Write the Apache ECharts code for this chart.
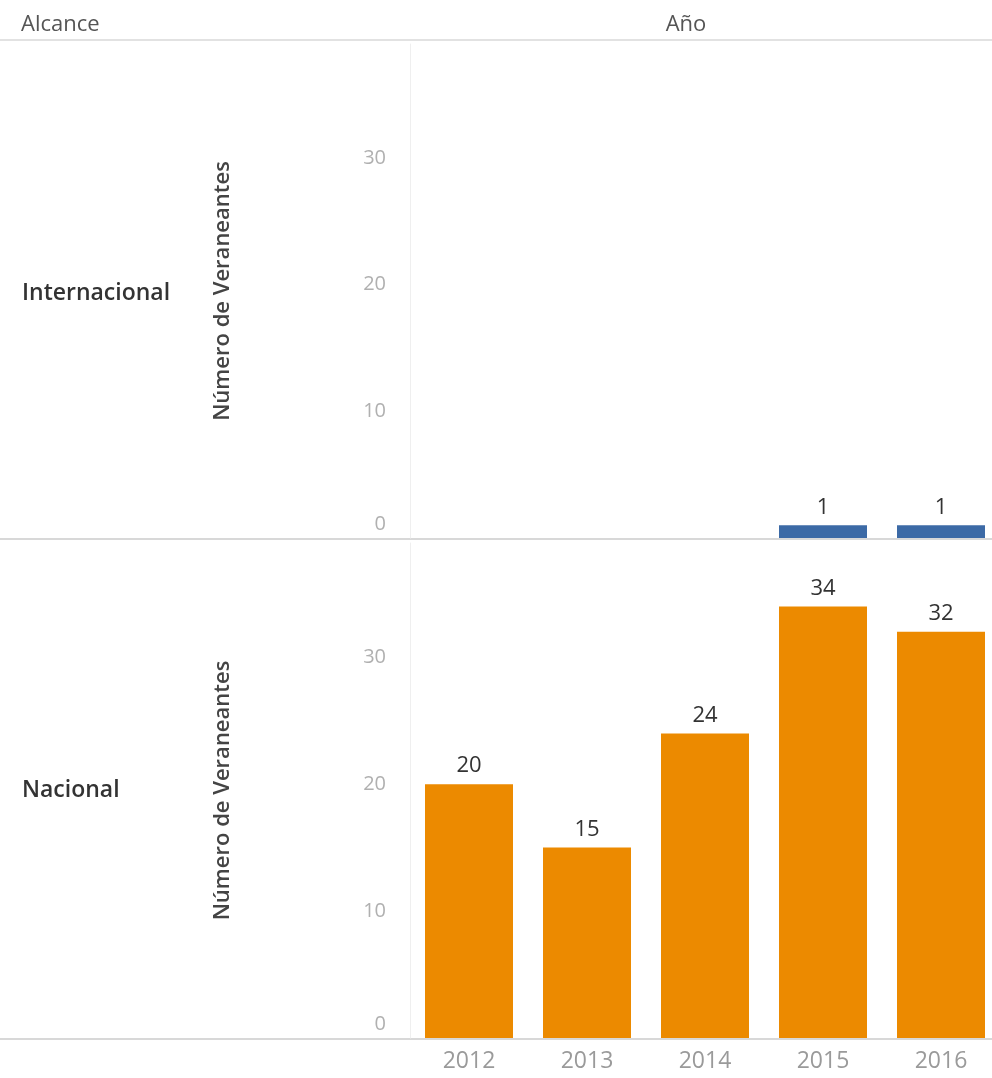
<!DOCTYPE html>
<html>
<head>
<meta charset="utf-8">
<script src="https://cdn.jsdelivr.net/npm/echarts@6/dist/echarts.min.js"></script>
<style>
html,body{margin:0;padding:0;background:#fff;overflow:hidden;}
#chart{width:1004px;height:1078px;}
</style>
</head>
<body>
<div id="chart"></div>
<script>
const years = ['2012', '2013', '2014', '2015', '2016'];
const internacional = [null, null, null, 1, 1];
const nacional = [20, 15, 24, 34, 32];
const rowLabels = ['Internacional', 'Nacional'];
const yTicks = [0, 10, 20, 30];

const font = '"Open Sans", "Noto Sans", sans-serif';
const chart = echarts.init(document.getElementById('chart'));

const tickStyle = { fontFamily: font, fontSize: 20, color: '#b0b0b0' };

const yAxisCommon = {
  type: 'value', min: 0, max: 39, interval: 10,
  name: 'Número de Veraneantes', nameLocation: 'middle', nameGap: 176,
  nameTextStyle: { fontFamily: font, fontSize: 22, color: '#444', fontWeight: 600 },
  axisLine: { show: true, lineStyle: { color: '#efefef', width: 1 } },
  axisTick: { show: false },
  splitLine: { show: false },
  axisLabel: Object.assign({
    margin: 24,
    formatter: v => (v === 0 ? '{z|0}' : (yTicks.indexOf(v) >= 0 ? String(v) : '')),
    rich: { z: Object.assign({ padding: [0, 0, 28, 0] }, tickStyle) }
  }, tickStyle)
};

chart.setOption({
  animation: false,
  backgroundColor: '#fff',
  grid: [
    { left: 410, width: 590, top: 44, height: 494 },
    { left: 410, width: 590, top: 543, height: 495 }
  ],
  xAxis: [
    { gridIndex: 0, type: 'category', data: years, axisLine: { show: false }, axisTick: { show: false }, axisLabel: { show: false } },
    { gridIndex: 1, type: 'category', data: years, axisLine: { show: false }, axisTick: { show: false },
      axisLabel: { fontFamily: font, fontSize: 23, color: '#9a9a9a', margin: 12 } }
  ],
  yAxis: [
    Object.assign({ gridIndex: 0 }, yAxisCommon),
    Object.assign({ gridIndex: 1 }, yAxisCommon)
  ],
  series: [
    { type: 'bar', xAxisIndex: 0, yAxisIndex: 0, data: internacional, barWidth: 88,
      itemStyle: { color: '#3c6aa6' },
      label: { show: true, position: 'top', distance: 7, fontFamily: font, fontSize: 22, color: '#333' } },
    { type: 'bar', xAxisIndex: 1, yAxisIndex: 1, data: nacional, barWidth: 88,
      itemStyle: { color: '#ec8a00' },
      label: { show: true, position: 'top', distance: 7, fontFamily: font, fontSize: 22, color: '#333' } }
  ],
  graphic: [
    { type: 'line', shape: { x1: 0, y1: 40, x2: 1004, y2: 40 }, style: { stroke: '#e2e2e2', lineWidth: 2 } },
    { type: 'line', shape: { x1: 0, y1: 539, x2: 1004, y2: 539 }, style: { stroke: '#d8d8d8', lineWidth: 2 } },
    { type: 'line', shape: { x1: 0, y1: 1039, x2: 1004, y2: 1039 }, style: { stroke: '#d8d8d8', lineWidth: 2 } },
    { type: 'text', x: 21, y: 25, style: { text: 'Alcance', fontFamily: font, fontSize: 22, fill: '#555', textVerticalAlign: 'middle' } },
    { type: 'text', x: 686, y: 25, style: { text: 'Año', fontFamily: font, fontSize: 22, fill: '#555', textAlign: 'center', textVerticalAlign: 'middle' } },
    { type: 'text', x: 22, y: 293, style: { text: rowLabels[0], fontFamily: font, fontSize: 23, fontWeight: 600, fill: '#333', textVerticalAlign: 'middle' } },
    { type: 'text', x: 22, y: 790, style: { text: rowLabels[1], fontFamily: font, fontSize: 23, fontWeight: 600, fill: '#333', textVerticalAlign: 'middle' } }
  ]
});
</script>
</body>
</html>
